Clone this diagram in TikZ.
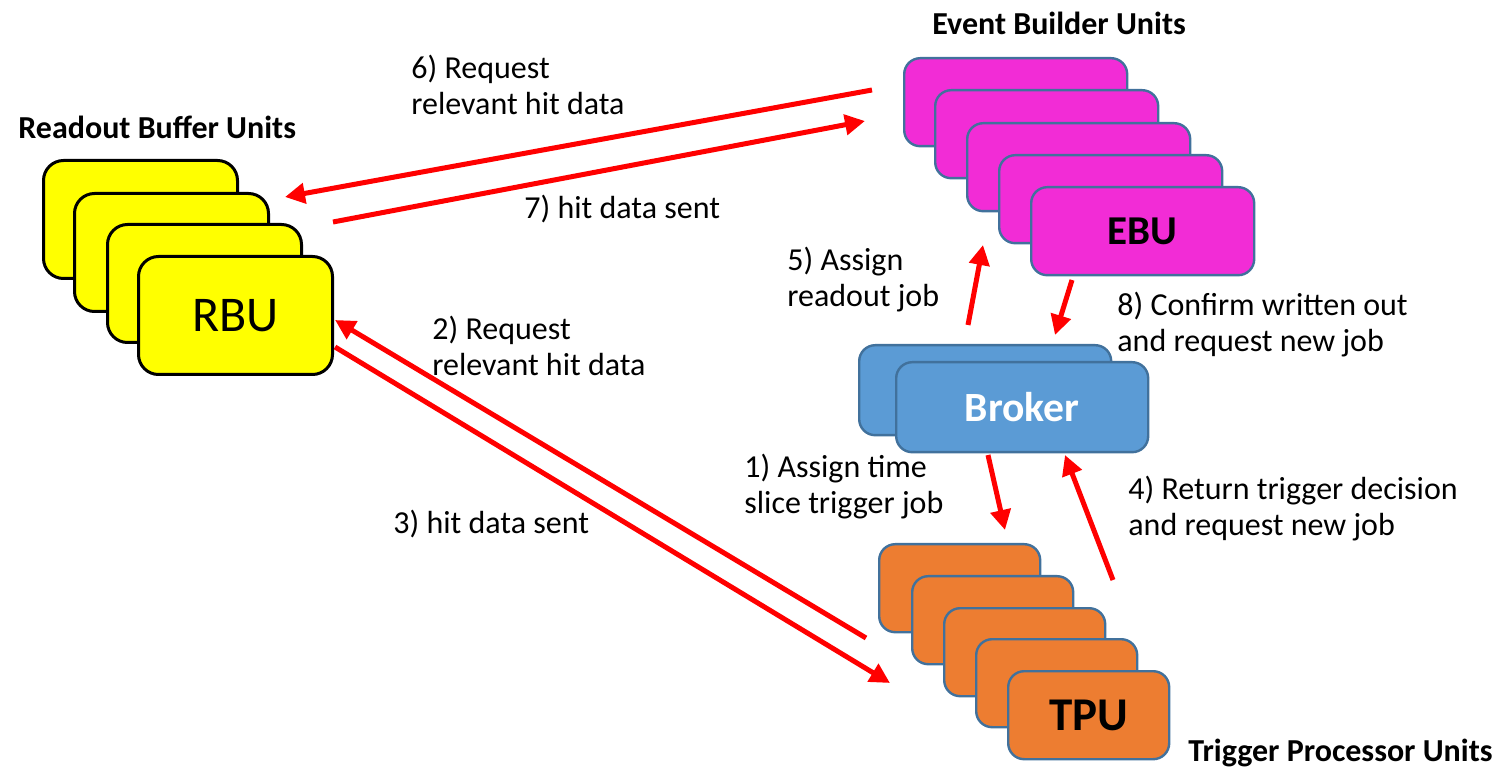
\documentclass[tikz,border=0pt]{standalone}
\usepackage{fontspec}
\setmainfont{Carlito}
\usetikzlibrary{arrows.meta}
\definecolor{rbuy}{HTML}{FFFF00}
\definecolor{ebum}{HTML}{F22CD6}
\definecolor{tpuo}{HTML}{ED7D31}
\definecolor{brkb}{HTML}{5B9BD5}
\definecolor{edgeb}{HTML}{41719C}
\definecolor{arrred}{HTML}{FF0000}
\begin{document}
\begin{tikzpicture}[x=0.5pt,y=-0.5pt,
  rbubox/.style={draw=black,line width=1.5pt,fill=rbuy,rounded corners=10pt,
    minimum width=97pt,minimum height=59pt,anchor=north west,inner sep=0pt,
    font=\fontsize{25}{30}\selectfont},
  ebubox/.style={draw=edgeb,line width=1.2pt,fill=ebum,rounded corners=8pt,
    minimum width=111.5pt,minimum height=44pt,anchor=north west,inner sep=0pt,
    font=\bfseries\fontsize{20.5}{24}\selectfont},
  tpubox/.style={draw=edgeb,line width=1.2pt,fill=tpuo,rounded corners=8pt,
    minimum width=80.5pt,minimum height=44pt,anchor=north west,inner sep=0pt,
    font=\bfseries\fontsize{23.5}{28}\selectfont},
  brkbox/.style={draw=edgeb,line width=1.2pt,fill=brkb,rounded corners=8pt,
    minimum width=126pt,minimum height=45pt,anchor=north west,inner sep=0pt,
    text=white,font=\bfseries\fontsize{20.8}{24}\selectfont},
  lbl/.style={font=\fontsize{16}{18}\selectfont,align=left,anchor=west,inner sep=0pt},
  ttl/.style={font=\bfseries\fontsize{16}{18}\selectfont,anchor=west,inner sep=0pt},
  flow/.style={draw=arrred,line width=2.5pt,-{Triangle[length=10pt,width=10pt]}},
]
\useasboundingbox (0,0) rectangle (1496,770);

% Readout Buffer Units
\node[rbubox] (rbu1) at (42,159) {};
\node[rbubox] (rbu2) at (73,192) {};
\node[rbubox] (rbu3) at (106,223) {};
\node[rbubox] (rbu4) at (137,255) {RBU};

% Event Builder Units
\node[ebubox] (ebu1) at (903,57) {};
\node[ebubox] (ebu2) at (934,89) {};
\node[ebubox] (ebu3) at (966,122) {};
\node[ebubox] (ebu4) at (998,154) {};
\node[ebubox] (ebu5) at (1030,186) {EBU};

% Broker
\node[brkbox] (brk1) at (858,344) {};
\node[brkbox] (brk2) at (895,361) {Broker};

% Trigger Processor Units (back labels almost fully hidden by the next card)
\node[tpubox] (tpu1) at (878,543) {\raisebox{-10.8pt}[0pt][0pt]{TPU}};
\node[tpubox] (tpu2) at (911,575) {\raisebox{-10.8pt}[0pt][0pt]{TPU}};
\node[tpubox] (tpu3) at (943,607) {\raisebox{-10.8pt}[0pt][0pt]{TPU}};
\node[tpubox] (tpu4) at (975,638) {\raisebox{-10.8pt}[0pt][0pt]{TPU}};
\node[tpubox] (tpu5) at (1007,670) {TPU};

% titles
\node[ttl] (trbu) at (18,127) {Readout Buffer Units};
\node[ttl] (tebu) at (932,23) {Event Builder Units};
\node[ttl] (ttpu) at (1188,753) {Trigger Processor Units};

% labels
\node[lbl] (l6) at (411,85) {6) Request\\relevant hit data};
\node[lbl] (l7) at (524,209) {7) hit data sent};
\node[lbl] (l5) at (787,280) {5) Assign\\readout job};
\node[lbl] (l8) at (1117,325) {8) Confirm written out\\and request new job};
\node[lbl] (l2) at (432,346) {2) Request\\relevant hit data};
\node[lbl] (l1) at (744,487) {1) Assign time\\slice trigger job};
\node[lbl] (l4) at (1128,509) {4) Return trigger decision\\and request new job};
\node[lbl] (l3) at (393,524) {3) hit data sent};

% arrow end points
\coordinate (a6s) at (872,90);  \coordinate (a6e) at (285,197);
\coordinate (a7s) at (333,222); \coordinate (a7e) at (865,121);
\coordinate (a2s) at (866,638); \coordinate (a2e) at (335,320);
\coordinate (a3s) at (335,347); \coordinate (a3e) at (890,683);
\coordinate (a1s) at (988,455); \coordinate (a1e) at (1005,530);
\coordinate (a4s) at (1113,580);\coordinate (a4e) at (1065,455);
\coordinate (a5s) at (968,325); \coordinate (a5e) at (983,245);
\coordinate (a8s) at (1072,280);\coordinate (a8e) at (1055,335);

\draw[flow] (a6s) -- (a6e);
\draw[flow] (a7s) -- (a7e);
\draw[flow] (a2s) -- (a2e);
\draw[flow] (a3s) -- (a3e);
\draw[flow] (a1s) -- (a1e);
\draw[flow] (a4s) -- (a4e);
\draw[flow] (a5s) -- (a5e);
\draw[flow] (a8s) -- (a8e);
\end{tikzpicture}
\end{document}
